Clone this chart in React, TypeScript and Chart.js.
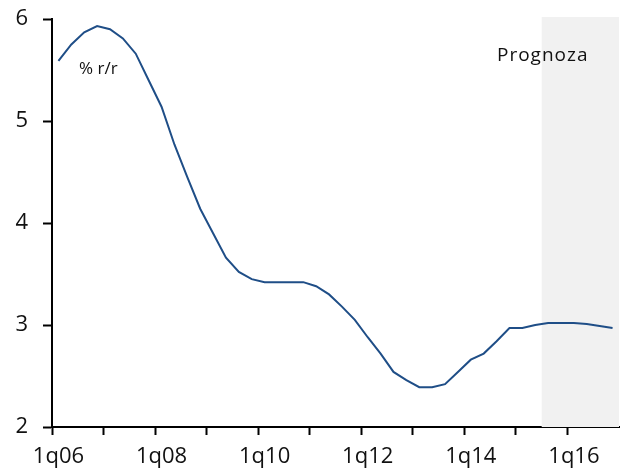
import React, { useEffect, useRef } from "react";
import { Chart, registerables } from "chart.js";

Chart.register(...registerables);

const years = ["06", "07", "08", "09", "10", "11", "12", "13", "14", "15", "16"];
const categories: string[] = [];
years.forEach((y) => {
  for (let q = 1; q <= 4; q++) categories.push(`${q}q${y}`);
});

const values = [
  5.59, 5.75, 5.87, 5.93, 5.9, 5.81, 5.66, 5.4,
  5.14, 4.77, 4.45, 4.14, 3.9, 3.66, 3.52, 3.45,
  3.42, 3.42, 3.42, 3.42, 3.38, 3.3, 3.18, 3.05,
  2.88, 2.72, 2.54, 2.46, 2.39, 2.39, 2.42, 2.54,
  2.66, 2.72, 2.84, 2.97, 2.97, 3.0, 3.02, 3.02,
  3.02, 3.01, 2.99, 2.97,
];

const forecastStart = "3q15";
const yTicks = [2, 3, 4, 5, 6];
const unitLabel = "% r/r";
const forecastLabel = "Prognoza";

const FONT = "'Open Sans', sans-serif";

export default function App() {
  const ref = useRef<HTMLCanvasElement | null>(null);
  useEffect(() => {
    if (!ref.current) return;
    const startIdx = categories.indexOf(forecastStart);
    const decor = {
      id: "decor",
      beforeDatasetsDraw(chart: any) {
        const { ctx, chartArea, scales } = chart;
        const x = scales.x;
        const half = (x.getPixelForValue(1) - x.getPixelForValue(0)) / 2;
        const left = x.getPixelForValue(startIdx) - half;
        ctx.save();
        ctx.fillStyle = "#f1f1f1";
        ctx.fillRect(left, chartArea.top - 2, chartArea.right - left, chartArea.bottom - chartArea.top + 2);
        ctx.restore();
      },
      afterDatasetsDraw(chart: any) {
        const { ctx } = chart;
        ctx.save();
        ctx.fillStyle = "#111";
        ctx.textBaseline = "middle";
        ctx.textAlign = "left";
        ctx.font = `17px ${FONT}`;
        ctx.fillText(unitLabel, 79, 69);
        ctx.font = `19px ${FONT}`;
        (ctx as any).letterSpacing = "1px";
        ctx.fillText(forecastLabel, 497, 56);
        ctx.restore();
      },
    };
    const chart = new Chart(ref.current, {
      type: "line",
      data: {
        labels: categories,
        datasets: [
          {
            data: values,
            borderColor: "#1f4e87",
            borderWidth: 2,
            pointRadius: 0,
            tension: 0,
            fill: false,
          },
        ],
      },
      options: {
        animation: false,
        responsive: false,
        maintainAspectRatio: false,
        layout: { padding: { top: 19, right: 3, left: 0, bottom: 0 } },
        plugins: { legend: { display: false }, tooltip: { enabled: false } },
        scales: {
          x: {
            type: "category",
            offset: true,
            afterFit: (s: any) => {
              s.height = 46;
              s.paddingLeft = 0;
              s.paddingRight = 0;
            },
            grid: {
              offset: true,
              drawOnChartArea: false,
              tickLength: 8,
              tickWidth: 2,
              tickColor: (c: any) => (c.index % 4 === 0 ? "#000" : "rgba(0,0,0,0)"),
            },
            border: { display: true, color: "#000", width: 2 },
            ticks: {
              autoSkip: false,
              maxRotation: 0,
              minRotation: 0,
              padding: 9,
              color: "#111",
              font: { family: FONT, size: 22 },
              callback: (_v: any, i: number) => (i % 8 === 0 ? categories[i] : ""),
            },
          },
          y: {
            min: yTicks[0],
            max: yTicks[yTicks.length - 1],
            afterFit: (s: any) => {
              s.width = 52;
              s.paddingTop = 0;
              s.paddingBottom = 0;
            },
            afterBuildTicks: (s: any) => {
              s.ticks = yTicks.map((v) => ({ value: v }));
            },
            grid: {
              drawOnChartArea: false,
              tickLength: 9,
              tickWidth: 2,
              tickColor: "#000",
            },
            border: { display: true, color: "#000", width: 2 },
            ticks: {
              padding: 15,
              color: "#111",
              font: { family: FONT, size: 22 },
            },
          },
        },
      },
      plugins: [decor],
    });
    return () => chart.destroy();
  }, []);
  return (
    <div style={{ position: "fixed", left: 0, top: 0, width: 622, height: 473, background: "#fff" }}>
      <canvas ref={ref} width={622} height={473} style={{ display: "block" }} />
    </div>
  );
}
